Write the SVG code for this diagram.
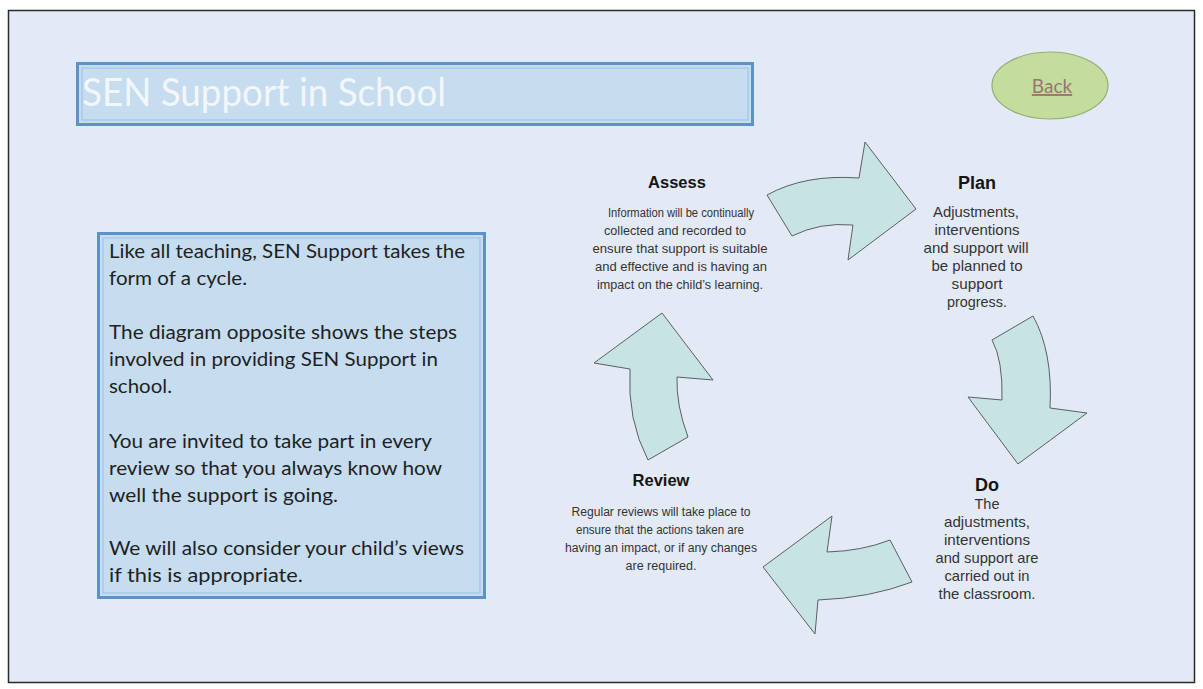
<svg xmlns="http://www.w3.org/2000/svg" width="1203" height="689" viewBox="0 0 1203 689">
<style>
.frame{fill:#e3eaf5;stroke:#2a2a2a;stroke-width:1.5}
.boxo{fill:#c6dcef;stroke:#5d92c9;stroke-width:3}
.boxi{fill:none;stroke:#a9c8e8;stroke-width:1.5}
.arrow{fill:#c8e3e4;stroke:#5a5f63;stroke-width:1}
.cal{font-family:Lato,"Open Sans","Liberation Sans",sans-serif}
.para{font-size:19.5px;fill:#1f1f1f}
.ar{font-family:"Liberation Sans",Arial,sans-serif;text-anchor:middle}
.h{font-weight:bold;fill:#151515}
.b{fill:#333333}
</style>
<rect x="0" y="0" width="1203" height="689" fill="#ffffff"/>
<rect class="frame" x="8.5" y="10.5" width="1186" height="672"/>

<g id="title">
<rect class="boxo" x="77.5" y="63.5" width="675" height="61"/>
<rect class="boxi" x="82" y="68" width="666" height="52"/>
<text class="cal" x="82" y="106" font-size="38" fill="#f3f7fc" textLength="364" lengthAdjust="spacingAndGlyphs">SEN Support in School</text>
</g>

<g id="back">
<ellipse cx="1050" cy="85.5" rx="58" ry="33.5" fill="#c3de9c" stroke="#93ad78" stroke-width="1.2"/>
<text class="cal" x="1052" y="93" font-size="19" fill="#9a7470" text-anchor="middle" text-decoration="underline">Back</text>
</g>

<g id="info">
<rect class="boxo" x="98.5" y="233.5" width="386" height="364"/>
<rect class="boxi" x="103" y="238" width="377" height="355"/>
<g class="cal para">
<text x="109" y="258" textLength="356" lengthAdjust="spacingAndGlyphs">Like all teaching, SEN Support takes the</text>
<text x="109" y="285" textLength="138" lengthAdjust="spacingAndGlyphs">form of a cycle.</text>
<text x="109" y="339" textLength="348" lengthAdjust="spacingAndGlyphs">The diagram opposite shows the steps</text>
<text x="109" y="366" textLength="329" lengthAdjust="spacingAndGlyphs">involved in providing SEN Support in</text>
<text x="109" y="393" textLength="63" lengthAdjust="spacingAndGlyphs">school.</text>
<text x="109" y="448" textLength="323" lengthAdjust="spacingAndGlyphs">You are invited to take part in every</text>
<text x="109" y="475" textLength="333" lengthAdjust="spacingAndGlyphs">review so that you always know how</text>
<text x="109" y="502" textLength="229" lengthAdjust="spacingAndGlyphs">well the support is going.</text>
<text x="109" y="555" textLength="355" lengthAdjust="spacingAndGlyphs">We will also consider your child’s views</text>
<text x="109" y="582" textLength="194" lengthAdjust="spacingAndGlyphs">if this is appropriate.</text>
</g>
</g>

<g id="connectors">
<path class="arrow" d="M767,195 Q805,174 859,178 L865,142 L916,209 L848,260 L853,225 Q820,222 792,236 Z"/>
<path class="arrow" d="M992,340 L1033,316 Q1053,352 1050,408 L1087,413 L1018,464 L968,397 L1002,400 Q1003,360 992,340 Z"/>
<path class="arrow" d="M912,582 Q870,598 818,600 L815,634 L763,567 L832,516 L827,552 Q862,551 890,540 Z"/>
<path class="arrow" d="M648,460 L688,437 Q676,405 677,377 L713,380 L662,313 L594,363 L630,369 Q627,420 648,460 Z"/>
</g>

<g id="assess" class="ar">
<text class="h" x="677" y="188" font-size="16.5">Assess</text>
<g class="b" font-size="12.5">
<text x="681" y="217" textLength="146" lengthAdjust="spacingAndGlyphs">Information will be continually</text>
<text x="675" y="235" textLength="142" lengthAdjust="spacingAndGlyphs">collected and recorded to</text>
<text x="680" y="253" textLength="175" lengthAdjust="spacingAndGlyphs">ensure that support is suitable</text>
<text x="681" y="271" textLength="172" lengthAdjust="spacingAndGlyphs">and effective and is having an</text>
<text x="680" y="289" textLength="166" lengthAdjust="spacingAndGlyphs">impact on the child’s learning.</text>
</g>
</g>

<g id="plan" class="ar">
<text class="h" x="977" y="189" font-size="18">Plan</text>
<g class="b" font-size="14.5">
<text x="976" y="217" textLength="86" lengthAdjust="spacingAndGlyphs">Adjustments,</text>
<text x="977" y="235" textLength="85" lengthAdjust="spacingAndGlyphs">interventions</text>
<text x="976" y="253" textLength="105" lengthAdjust="spacingAndGlyphs">and support will</text>
<text x="977" y="271" textLength="91" lengthAdjust="spacingAndGlyphs">be planned to</text>
<text x="977" y="289" textLength="51" lengthAdjust="spacingAndGlyphs">support</text>
<text x="977" y="307" textLength="60" lengthAdjust="spacingAndGlyphs">progress.</text>
</g>
</g>

<g id="do" class="ar">
<text class="h" x="987" y="491" font-size="18">Do</text>
<g class="b" font-size="14.5">
<text x="987" y="509" textLength="25" lengthAdjust="spacingAndGlyphs">The</text>
<text x="987" y="527" textLength="86" lengthAdjust="spacingAndGlyphs">adjustments,</text>
<text x="987" y="545" textLength="86" lengthAdjust="spacingAndGlyphs">interventions</text>
<text x="987" y="563" textLength="103" lengthAdjust="spacingAndGlyphs">and support are</text>
<text x="987" y="581" textLength="85" lengthAdjust="spacingAndGlyphs">carried out in</text>
<text x="987" y="599" textLength="97" lengthAdjust="spacingAndGlyphs">the classroom.</text>
</g>
</g>

<g id="review" class="ar">
<text class="h" x="661" y="486" font-size="16.5">Review</text>
<g class="b" font-size="12.5">
<text x="661" y="516" textLength="179" lengthAdjust="spacingAndGlyphs">Regular reviews will take place to</text>
<text x="660" y="534" textLength="168" lengthAdjust="spacingAndGlyphs">ensure that the actions taken are</text>
<text x="661" y="552" textLength="192" lengthAdjust="spacingAndGlyphs">having an impact, or if any changes</text>
<text x="661" y="570" textLength="71" lengthAdjust="spacingAndGlyphs">are required.</text>
</g>
</g>
</svg>
